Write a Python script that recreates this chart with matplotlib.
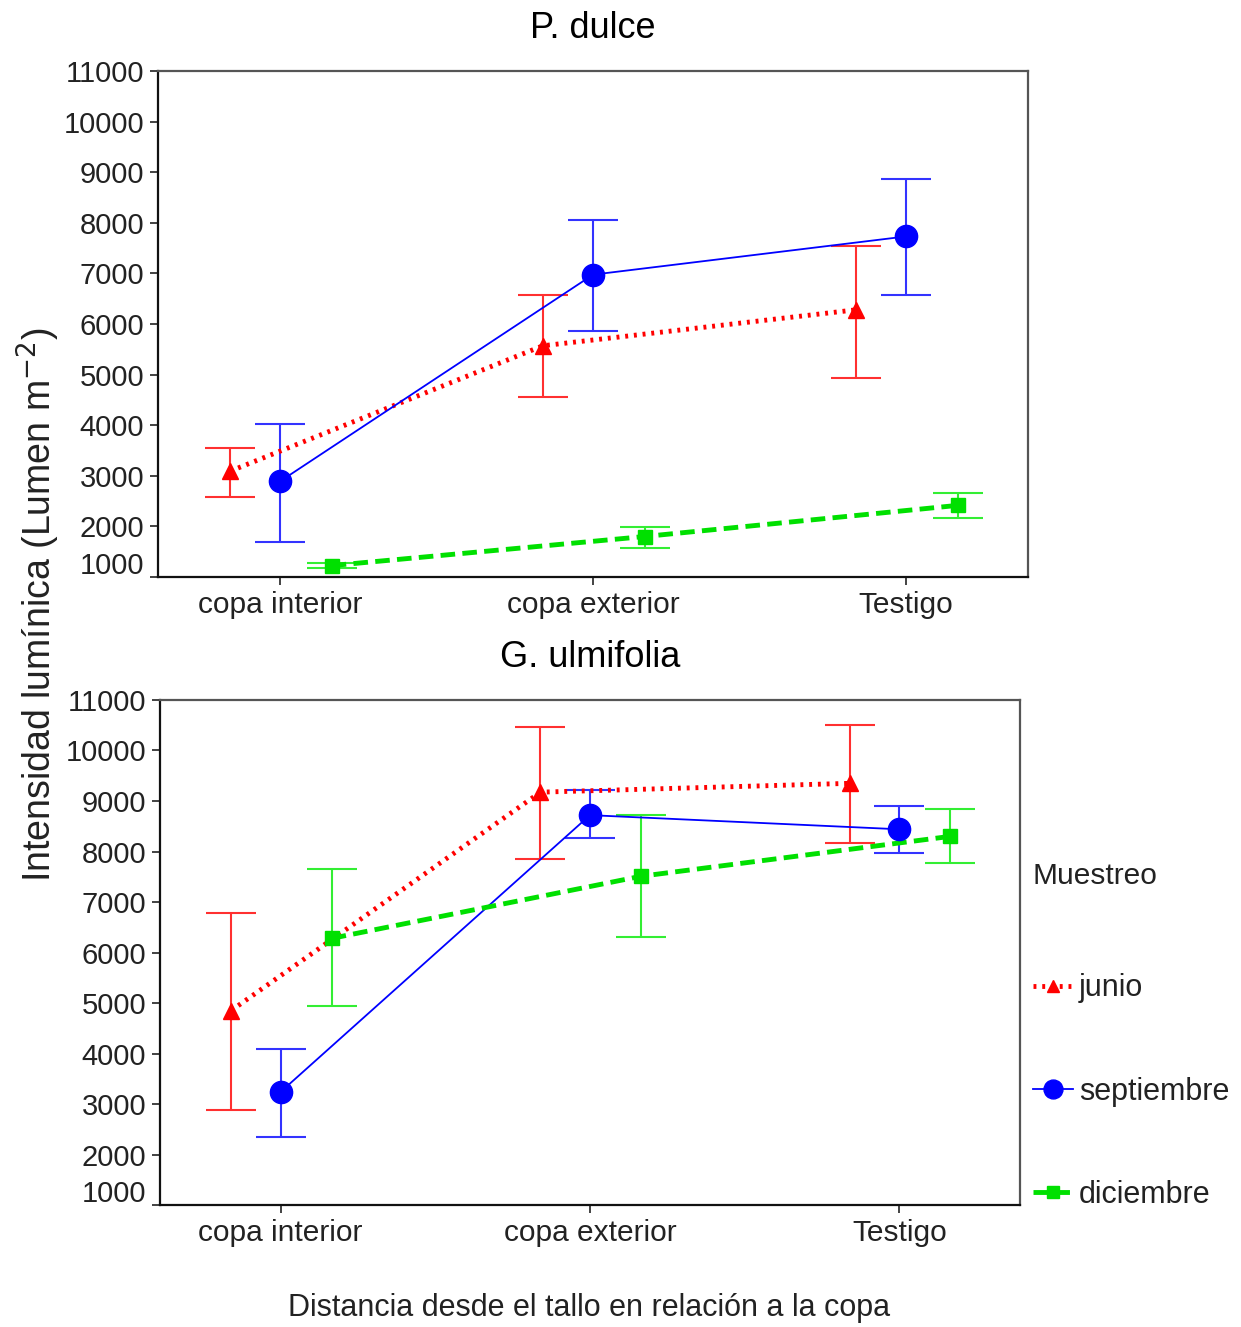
import matplotlib
matplotlib.use("Agg")
import matplotlib.pyplot as plt
from matplotlib.lines import Line2D
import matplotlib.transforms as mtransforms
import numpy as np

plt.rcParams['font.family'] = ['Liberation Sans', 'DejaVu Sans']

categories = ["copa interior", "copa exterior", "Testigo"]
series = ["junio", "septiembre", "diciembre"]
yticks = [1000, 2000, 3000, 4000, 5000, 6000, 7000, 8000, 9000, 10000, 11000]

# P. dulce
dulce_junio = [3090, 5570, 6280]
dulce_junio_lo = [2575, 4560, 4935]
dulce_junio_hi = [3545, 6580, 7550]
dulce_sept = [2890, 6975, 7730]
dulce_sept_lo = [1700, 5865, 6580]
dulce_sept_hi = [4020, 8065, 8860]
dulce_dic = [1225, 1800, 2415]
dulce_dic_lo = [1175, 1565, 2160]
dulce_dic_hi = [1275, 1980, 2655]

# G. ulmifolia
ulmi_junio = [4850, 9175, 9350]
ulmi_junio_lo = [2885, 7845, 8165]
ulmi_junio_hi = [6775, 10465, 10505]
ulmi_sept = [3240, 8720, 8440]
ulmi_sept_lo = [2350, 8260, 7965]
ulmi_sept_hi = [4095, 9215, 8900]
ulmi_dic = [6280, 7510, 8300]
ulmi_dic_lo = [4950, 6315, 7765]
ulmi_dic_hi = [7650, 8720, 8840]

styles = {
    "junio": dict(color="#ff0000", ecolor="#ff3030", ls=(0, (0.6, 1.2)), lw=3.5, marker="^", ms=11, offset=-0.16),
    "septiembre": dict(color="#0000ff", ecolor="#3333ff", ls="-", lw=1.3, marker="o", ms=16, offset=0.0),
    "diciembre": dict(color="#00e000", ecolor="#33ee33", ls=(0, (3, 1.5)), lw=3.5, marker="s", ms=10, offset=0.165),
}

fig = plt.figure(figsize=(12.41, 13.27), dpi=100)
ax1 = fig.add_axes([0.1273, 0.5652, 0.8284 - 0.1273, 0.9465 - 0.5652])
ax2 = fig.add_axes([0.1289, 0.0919, 0.8219 - 0.1289, 0.4725 - 0.0919])

panels = [
    (ax1, "P. dulce", {
        "junio": (dulce_junio, dulce_junio_lo, dulce_junio_hi),
        "septiembre": (dulce_sept, dulce_sept_lo, dulce_sept_hi),
        "diciembre": (dulce_dic, dulce_dic_lo, dulce_dic_hi)}),
    (ax2, "G. ulmifolia", {
        "junio": (ulmi_junio, ulmi_junio_lo, ulmi_junio_hi),
        "septiembre": (ulmi_sept, ulmi_sept_lo, ulmi_sept_hi),
        "diciembre": (ulmi_dic, ulmi_dic_lo, ulmi_dic_hi)}),
]

x = np.arange(1, len(categories) + 1)
for ax, title, data in panels:
    for s in series:
        st = styles[s]
        m, lo, hi = (np.array(v, dtype=float) for v in data[s])
        xs = x + st["offset"]
        ax.errorbar(xs, m, yerr=[m - lo, hi - m], fmt="none", ecolor=st["ecolor"],
                    elinewidth=1.5, capsize=18, capthick=1.5, zorder=2)
        ax.plot(xs, m, color=st["color"], ls=st["ls"], lw=st["lw"], zorder=3)
        ax.plot(xs, m, ls="none", marker=st["marker"], ms=st["ms"], color=st["color"],
                mec=st["color"], zorder=4)
    ax.set_xlim(0.61, 3.39)
    ax.set_ylim(1000, 11000)
    ax.set_yticks(yticks)
    ax.set_yticklabels([str(v) for v in yticks])
    ax.set_xticks(x)
    ax.set_xticklabels(categories)
    ax.tick_params(axis="y", labelsize=21, length=6, width=1.2, colors="#222222", pad=4)
    ax.tick_params(axis="x", labelsize=21.5, length=6, width=1.2, colors="#222222", pad=4)
    for sp in ["left", "bottom"]:
        ax.spines[sp].set_color("#111111")
        ax.spines[sp].set_linewidth(1.6)
    for sp in ["top", "right"]:
        ax.spines[sp].set_color("#555555")
        ax.spines[sp].set_linewidth(1.6)
    ax.set_title(title, fontsize=26, pad=24)
    # lift the lowest tick label slightly, as in the original
    lab = ax.get_yticklabels()[0]
    lab.set_transform(lab.get_transform() + mtransforms.ScaledTranslation(0, 14 / 100, fig.dpi_scale_trans))

fig.text(0.031, 0.544, "Intensidad lumínica (Lumen m$^{-2}$)", rotation=90,
         ha="center", va="center", fontsize=27, color="#222222")
fig.text(0.475, 0.0143, "Distancia desde el tallo en relación a la copa",
         ha="center", va="center", fontsize=22, color="#222222")

handles = []
for s in series:
    st = styles[s]
    handles.append(Line2D([], [], color=st["color"], ls=st["ls"], lw=st["lw"],
                          marker=st["marker"], ms=st["ms"] * 0.85, mec=st["color"]))
leg = fig.legend(handles, series, title="Muestreo", loc="upper left",
                 bbox_to_anchor=(0.8225, 0.3595), frameon=False, fontsize=22,
                 title_fontsize=21.5, labelspacing=2.4, handlelength=1.3,
                 handletextpad=0.2, borderaxespad=0, alignment="left")
leg._legend_box.sep = 60
for t in leg.get_texts():
    t.set_color("#222222")
leg.get_title().set_color("#222222")

fig.savefig("out.png", dpi=100)
